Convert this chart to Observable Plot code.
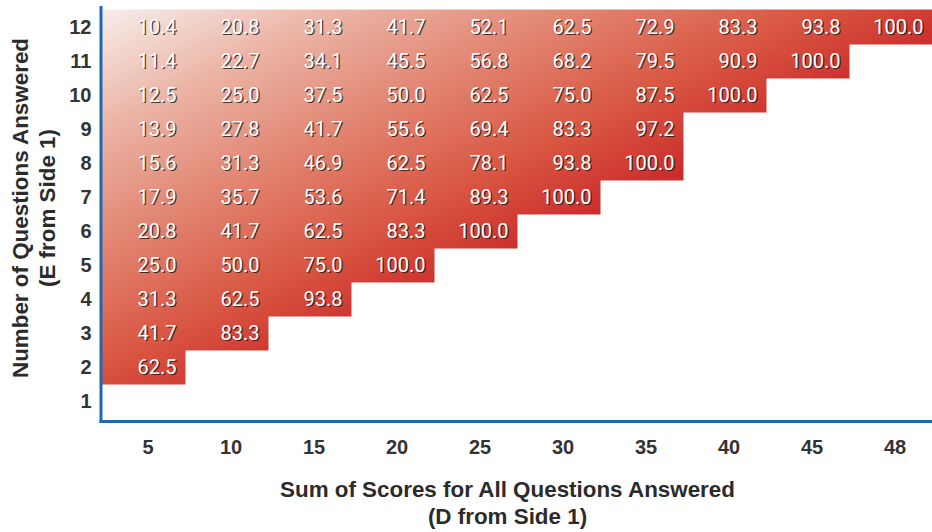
<!DOCTYPE html>
<html>
<head>
<meta charset="utf-8">
<script src="https://cdn.jsdelivr.net/npm/d3@7"></script>
<script src="https://cdn.jsdelivr.net/npm/@observablehq/plot@0.6"></script>
<style>
  html, body { margin: 0; padding: 0; background: #fff; }
</style>
</head>
<body>
<div id="chart"></div>
<script>
// Categories
const scoreSums = [5, 10, 15, 20, 25, 30, 35, 40, 45, 48];
const questionCounts = [1, 2, 3, 4, 5, 6, 7, 8, 9, 10, 11, 12];

// Values per row (number of questions answered), from left (sum 5) rightwards
const row12 = [10.4, 20.8, 31.3, 41.7, 52.1, 62.5, 72.9, 83.3, 93.8, 100.0];
const row11 = [11.4, 22.7, 34.1, 45.5, 56.8, 68.2, 79.5, 90.9, 100.0];
const row10 = [12.5, 25.0, 37.5, 50.0, 62.5, 75.0, 87.5, 100.0];
const row9  = [13.9, 27.8, 41.7, 55.6, 69.4, 83.3, 97.2];
const row8  = [15.6, 31.3, 46.9, 62.5, 78.1, 93.8, 100.0];
const row7  = [17.9, 35.7, 53.6, 71.4, 89.3, 100.0];
const row6  = [20.8, 41.7, 62.5, 83.3, 100.0];
const row5  = [25.0, 50.0, 75.0, 100.0];
const row4  = [31.3, 62.5, 93.8];
const row3  = [41.7, 83.3];
const row2  = [62.5];
const row1  = [];

const xTitle = ["Sum of Scores for All Questions Answered", "(D from Side 1)"];
const yTitle = ["Number of Questions Answered", "(E from Side 1)"];

const rows = {1: row1, 2: row2, 3: row3, 4: row4, 5: row5, 6: row6, 7: row7, 8: row8, 9: row9, 10: row10, 11: row11, 12: row12};
const table = [];
for (const q of questionCounts) {
  rows[q].forEach((v, i) => table.push({x: scoreSums[i], y: q, v}));
}

const W = 932, H = 532;
const mL = 102, mR = 0, mT = 7, mB = 110.5;
const bandW = (W - mL - mR) / scoreSums.length;

const plot = Plot.plot({
  width: W,
  height: H,
  marginLeft: mL,
  marginRight: mR,
  marginTop: mT,
  marginBottom: mB,
  style: {fontFamily: "'Liberation Sans', Arial, sans-serif", background: "#fff", color: "#333"},
  x: {type: "band", domain: scoreSums, padding: 0, tickSize: 0, tickPadding: 18, label: null},
  y: {type: "band", domain: questionCounts.slice().reverse(), padding: 0, tickSize: 0, tickPadding: 11, label: null},
  marks: [
    Plot.cell(table, {x: "x", y: "y", fill: "url(#heatGrad)", inset: -0.5}),
    Plot.text(table, {x: "x", y: "y", text: d => d.v.toFixed(1), textAnchor: "end",
      dx: bandW / 2 - 9 + 1.3, dy: 1.4, fill: "#2a1a1a", fillOpacity: 0.85,
      fontSize: 20, fontFamily: "Roboto, sans-serif"}),
    Plot.text(table, {x: "x", y: "y", text: d => d.v.toFixed(1), textAnchor: "end",
      dx: bandW / 2 - 9, fill: "#ffffff",
      fontSize: 20, fontFamily: "Roboto, sans-serif"})
  ]
});

const svg = d3.select(plot);

// gradient
const defs = svg.insert("defs", ":first-child");
const grad = defs.append("linearGradient")
  .attr("id", "heatGrad")
  .attr("gradientUnits", "userSpaceOnUse")
  .attr("x1", 0).attr("y1", 0).attr("x2", 1).attr("y2", 1)
  .attr("gradientTransform", `translate(${mL},${mT}) scale(${W - mL - mR},${H - mT - mB})`);
[[0, "#f8efec"], [0.15, "#ebb3a4"], [0.3, "#e1826e"], [0.44, "#d85440"], [0.55, "#cc2c2b"], [1, "#bb1f20"]]
  .forEach(([o, c]) => grad.append("stop").attr("offset", o).attr("stop-color", c));

// tick label styling
svg.selectAll("[aria-label='x-axis tick label'] text, [aria-label='x-axis'] text")
  .attr("font-size", 20).attr("font-weight", "bold").attr("fill", "#333").attr("dx", 4);
svg.selectAll("[aria-label='y-axis tick label'] text, [aria-label='y-axis'] text")
  .attr("font-size", 20).attr("font-weight", "bold").attr("fill", "#333");

// axis lines
const axisColor = "#1c68b3";
svg.append("line").attr("x1", mL - 1).attr("x2", mL - 1).attr("y1", mT - 1).attr("y2", H - mB + 1.5)
  .attr("stroke", axisColor).attr("stroke-width", 3);
svg.append("line").attr("x1", mL - 2.5).attr("x2", W).attr("y1", H - mB).attr("y2", H - mB)
  .attr("stroke", axisColor).attr("stroke-width", 3);

// axis titles
const titleFont = "'Liberation Sans', Arial, sans-serif";
const xt = svg.append("text").attr("text-anchor", "middle").attr("font-family", titleFont)
  .attr("font-size", 22.4).attr("font-weight", "bold").attr("fill", "#2b2b2b");
xt.append("tspan").attr("x", 507.5).attr("y", 497).text(xTitle[0]);
xt.append("tspan").attr("x", 507.5).attr("y", 524).text(xTitle[1]);

const yt = svg.append("text").attr("text-anchor", "middle").attr("font-family", titleFont)
  .attr("font-size", 22.4).attr("font-weight", "bold").attr("fill", "#2b2b2b")
  .attr("transform", "translate(0,208) rotate(-90)");
yt.append("tspan").attr("x", 0).attr("y", 28).text(yTitle[0]);
yt.append("tspan").attr("x", 0).attr("y", 55).text(yTitle[1]);

document.getElementById("chart").appendChild(plot);
</script>
</body>
</html>
